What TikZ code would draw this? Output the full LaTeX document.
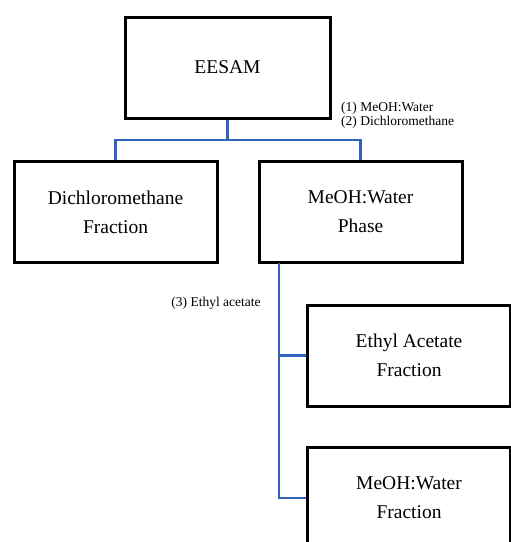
\documentclass[tikz,border=0pt]{standalone}
\usepackage{fontspec}
\setmainfont{Liberation Serif}
\definecolor{linkblue}{RGB}{47,98,186}
\tikzset{
  box/.style={draw, line width=3pt, minimum width=203pt, minimum height=101pt, align=center, inner sep=0pt, font=\fontsize{19.5}{29}\selectfont},
  link/.style={draw=linkblue, line width=2.5pt},
  step note/.style={inner sep=0pt, align=left, font=\fontsize{13.5}{14.5}\selectfont}
}
\begin{document}
\begin{tikzpicture}[x=1pt,y=-1pt]
    \useasboundingbox (0,0) rectangle (511,542);
    \node[box, minimum width=205pt] (EESAM) at (227.5,67.5) {EESAM};
    \node[box] (DCM) at (115.5,212) {Dichloromethane\\Fraction};
    \node[box] (MWP) at (360.5,212) {MeOH:Water\\Phase};
    \node[box] (EAF) at (409,355.5) {Ethyl Acetate\\Fraction};
    \node[box] (MWF) at (409,498) {MeOH:Water\\Fraction};

    \node[step note, anchor=west] (S12) at (341,115) {(1) MeOH:Water\\(2) Dichloromethane};
    \node[step note] (S3) at (216,303) {(3) Ethyl acetate};

    \coordinate (split) at (227.5,140);
    \coordinate (trunk) at (279,263);

    \draw[link] (EESAM.south) -- (split);
    \draw[link] (split) -| (DCM.north);
    \draw[link] (split) -| (MWP.north);
    \draw[link] (trunk) |- (EAF.west);
    \draw[link] (trunk) |- (MWF.west);
\end{tikzpicture}
\end{document}
